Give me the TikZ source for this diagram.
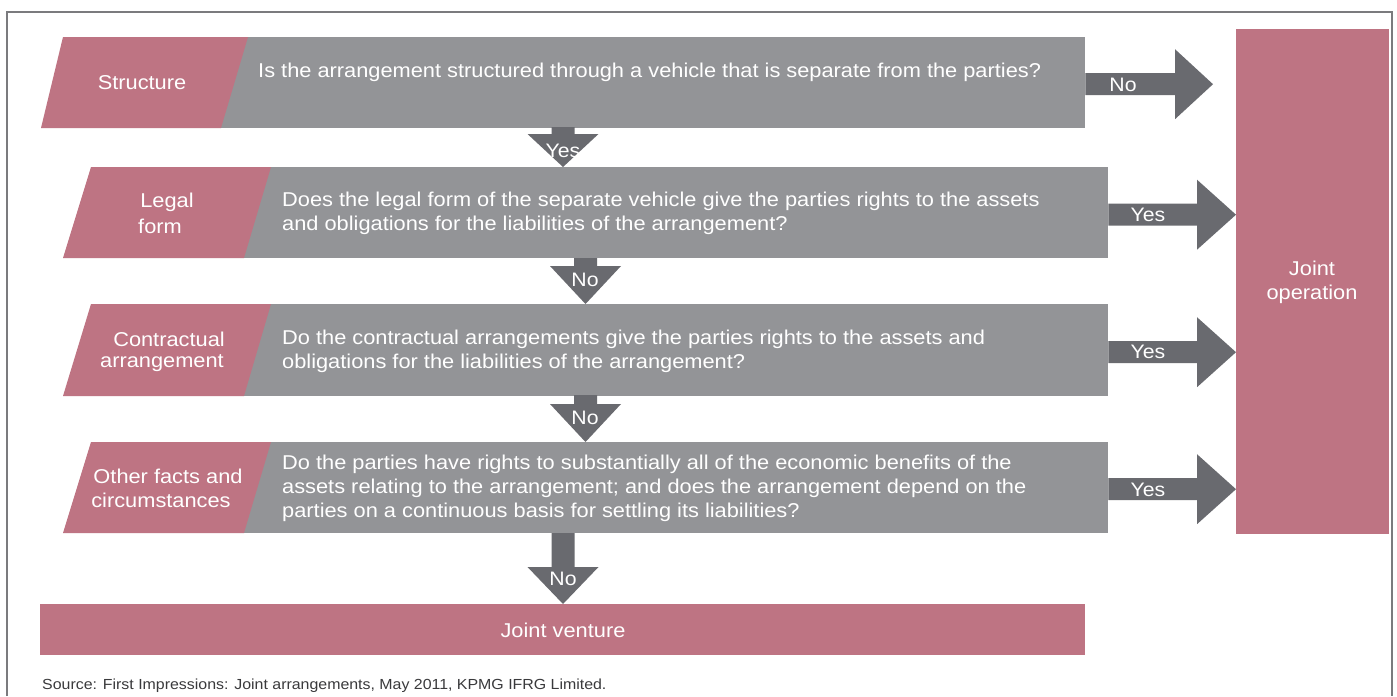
\documentclass[tikz,border=0pt]{standalone}
\usepackage{fontspec}
\setmainfont{Liberation Sans}[FakeStretch=1.09]
\usetikzlibrary{calc}
\definecolor{rose}{HTML}{BE7483}
\definecolor{slab}{HTML}{939497}
\definecolor{arrowgrey}{HTML}{696A6F}
\definecolor{framegrey}{HTML}{7B7B7E}
\definecolor{sourcegrey}{HTML}{3A3A3C}
\tikzset{
  qbox/.style={fill=slab, draw=none, inner sep=0pt, anchor=north west},
  outbox/.style={fill=rose, draw=none, inner sep=0pt, anchor=north west},
  tag/.style={text=white, font=\fontsize{20}{24}\selectfont, inner sep=0pt},
  question/.style={text=white, font=\fontsize{20}{24}\selectfont, align=left, anchor=west, inner sep=0pt},
  flowlabel/.style={text=white, font=\fontsize{19.5}{24}\selectfont, inner sep=0pt},
  flowarrow/.style={fill=arrowgrey, draw=none}
}
% horizontal block arrow: #1 = start, #2 = x of head base, #3 = x of tip
\newcommand{\blockarrowright}[3]{%
  \fill[flowarrow] let \p1 = #1 in
    (\x1,\y1-11) -- (#2,\y1-11) -- (#2,\y1-35) -- (#3,\y1) --
    (#2,\y1+35) -- (#2,\y1+11) -- (\x1,\y1+11) -- cycle;}
% vertical block arrow: #1 = start, #2 = y of head base, #3 = y of tip
\newcommand{\blockarrowdown}[3]{%
  \fill[flowarrow] let \p1 = #1 in
    (\x1-11.5,\y1) -- (\x1-11.5,#2) -- (\x1-35.5,#2) -- (\x1,#3) --
    (\x1+35.5,#2) -- (\x1+11.5,#2) -- (\x1+11.5,\y1) -- cycle;}
\begin{document}
\begin{tikzpicture}[x=1pt,y=-1pt]
\useasboundingbox (0,0) rectangle (1397,696);
\fill[white] (0,0) rectangle (1397,696);
% outer frame
\draw[framegrey, line width=1.2pt] (7,696) -- (7,12) -- (1392,12) -- (1392,696);

% grey question slabs
\node[qbox, minimum width=864pt, minimum height=91pt] (q1) at (221,37) {};
\node[qbox, minimum width=864pt, minimum height=91pt] (q2) at (244,167) {};
\node[qbox, minimum width=864pt, minimum height=92pt] (q3) at (244,304) {};
\node[qbox, minimum width=864pt, minimum height=91pt] (q4) at (244,442) {};

% rose criterion tags
\fill[rose] (41,128) -- (63,37) -- (248,37) -- (221,128) -- cycle;
\fill[rose] (63,258) -- (91,167) -- (271,167) -- (244,258) -- cycle;
\fill[rose] (63,396) -- (91,304) -- (271,304) -- (244,396) -- cycle;
\fill[rose] (63,533) -- (91,442) -- (271,442) -- (244,533) -- cycle;

% outcome boxes
\node[outbox, minimum width=1045pt, minimum height=51pt] (jv) at (40,604) {};
\node[outbox, minimum width=153pt, minimum height=505pt] (jo) at (1236,29) {};

% tag texts
\node[tag] (t1) at (142,83) {Structure};
\node[tag] (t2a) at (167,202) {Legal};
\node[tag] (t2b) at (160,226) {form};
\node[tag] (t3a) at (169,339) {Contractual};
\node[tag] (t3b) at (162,363) {arrangement};
\node[tag] (t4a) at (168,476) {Other facts and};
\node[tag] (t4b) at (161,500) {circumstances};

% questions
\node[question] (x1) at (258,72) {Is the arrangement structured through a vehicle that is separate from the parties?};
\node[question] (x2) at (282,213) {Does the legal form of the separate vehicle give the parties rights to the assets\\and obligations for the liabilities of the arrangement?};
\node[question] (x3) at (282,351) {Do the contractual arrangements give the parties rights to the assets and\\obligations for the liabilities of the arrangement?};
\node[question] (x4) at (282,488) {Do the parties have rights to substantially all of the economic benefits of the\\assets relating to the arrangement; and does the arrangement depend on the\\parties on a continuous basis for settling its liabilities?};

% outcome texts
\node[tag] (jvt) at (563,630) {Joint venture};
\node[tag, align=center] (jot) at (1312,282) {Joint\\operation};

% arrows to joint operation
\blockarrowright{($(q1.east)+(0,1.5)$)}{1175}{1213}
\blockarrowright{($(q2.east)+(0,2)$)}{1197}{1236}
\blockarrowright{($(q3.east)+(0,2)$)}{1197}{1236}
\blockarrowright{($(q4.east)+(0,1.5)$)}{1197}{1236}

% arrows down the chain
\coordinate (d1) at (563,127);
\coordinate (d2) at (585.5,258);
\coordinate (d3) at (585.5,395);
\coordinate (d4) at (563,533);
\blockarrowdown{(d1)}{134}{167}
\blockarrowdown{(d2)}{266}{304}
\blockarrowdown{(d3)}{404}{442}
\blockarrowdown{(d4)}{567}{604}

% arrow labels
\node[flowlabel] (l1) at (1123,85) {No};
\node[flowlabel] (l2) at (1148,215) {Yes};
\node[flowlabel] (l3) at (1148,352) {Yes};
\node[flowlabel] (l4) at (1148,490) {Yes};
\node[flowlabel] (m1) at (563,151) {Yes};
\node[flowlabel] (m2) at (585,280) {No};
\node[flowlabel] (m3) at (585,418) {No};
\node[flowlabel] (m4) at (563,579) {No};

% source line
\node[text=sourcegrey, font=\fontsize{14.6}{18}\selectfont, anchor=west, inner sep=0pt] (src) at (42,686)
  {Source: First Impressions: Joint arrangements, May 2011, KPMG IFRG Limited.};
\end{tikzpicture}
\end{document}
